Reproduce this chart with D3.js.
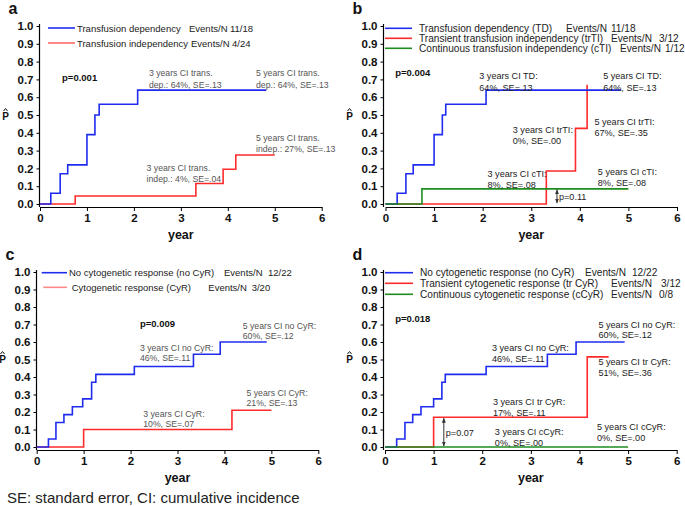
<!DOCTYPE html>
<html><head><meta charset="utf-8">
<script src="https://cdn.jsdelivr.net/npm/d3@7"></script>
<style>
body{margin:0;background:#fff;}
svg text{font-family:"Liberation Sans",Arial,Helvetica,sans-serif;}
</style></head>
<body><svg id="c" width="685" height="506"></svg>
<script>
// ---------- data ----------
const xTicks = [0,1,2,3,4,5,6];
const yTicks = [0,0.1,0.2,0.3,0.4,0.5,0.6,0.7,0.8,0.9,1.0];
const yTickLabels = ["0.0","0.1","0.2","0.3","0.4","0.5","0.6","0.7","0.8","0.9","1.0"];

// panel a
const aDepTimes   = [0, 0.23, 0.43, 0.59, 1.00, 1.17, 1.26, 2.08, 4.82];
const aDepValues  = [0, 0.06, 0.17, 0.22, 0.39, 0.50, 0.56, 0.64, 0.64];
const aIndTimes   = [0, 0.75, 3.32, 3.90, 4.17, 5.00];
const aIndValues  = [0, 0.045, 0.115, 0.195, 0.275, 0.275];
// panel b
const bTDTimes    = [0, 0.24, 0.42, 0.57, 1.00, 1.17, 1.24, 2.07, 4.85];
const bTDValues   = [0, 0.06, 0.17, 0.22, 0.39, 0.50, 0.56, 0.64, 0.64];
const bTrTITimes  = [0, 3.31, 3.91, 4.15];
const bTrTIValues = [0, 0.185, 0.425, 0.67];
const bCTITimes   = [0, 0.75, 5.00];
const bCTIValues  = [0, 0.085, 0.085];
// panel c
const cNoTimes    = [0, 0.25, 0.41, 0.58, 0.76, 0.98, 1.17, 1.26, 2.08, 3.34, 3.91, 4.90];
const cNoValues   = [0, 0.046, 0.14, 0.185, 0.23, 0.275, 0.37, 0.415, 0.46, 0.53, 0.60, 0.60];
const cCyRTimes   = [0, 1.00, 4.16, 5.00];
const cCyRValues  = [0, 0.10, 0.21, 0.21];
// panel d
const dNoTimes    = [0, 0.24, 0.41, 0.57, 0.74, 1.00, 1.17, 1.24, 2.08, 3.34, 3.93, 4.93];
const dNoValues   = [0, 0.046, 0.14, 0.185, 0.23, 0.275, 0.37, 0.415, 0.46, 0.53, 0.60, 0.60];
const dTrTimes    = [0, 1.00, 4.16, 4.60];
const dTrValues   = [0, 0.17, 0.515, 0.515];
const dCTimes     = [0, 5.00];
const dCValues    = [0, 0];

const BLUE="#1f2cf0", RED="#ff2a2a", GREEN="#1e8c1e";
const zip=(t,v)=>t.map((x,i)=>[x,v[i]]);

const panels = [
 {label:"a", x0:40, x1:321.7, yZero:204, yOne:26, axisX:39.5,
  legendFont:9.5, annFont:8.7, annColor:"#555", pX:0.47, pY:0.69, pText:"p=0.001",
  series:[{d:zip(aIndTimes,aIndValues),c:RED},{d:zip(aDepTimes,aDepValues),c:BLUE}],
  legend:[
   {c:BLUE, lx0:48, lx1:75, y:28, tx:77, t:"Transfusion dependency", ex:189, ev:"Events/N", cx:230, cv:"11/18"},
   {c:"#ff6a6a", lx0:48, lx1:75, y:43, tx:77, t:"Transfusion independency", ex:191, ev:"Events/N", cx:232, cv:"4/24"}],
  ann:[
   {x:2.32,y:0.72,dy:12.5,l:["3 years CI trans.","dep.: 64%, SE=.13"]},
   {x:4.6,y:0.72,dy:12.5,l:["5 years CI trans.","dep.: 64%, SE=.13"]},
   {x:4.6,y:0.354,dy:11,l:["5 years CI trans.","indep.: 27%, SE=.13"]},
   {x:2.27,y:0.185,dy:10.5,l:["3 years CI trans.","indep.: 4%, SE=.04"]}],
  arrow:null},
 {label:"b", x0:385.5, x1:677, yZero:204, yOne:26, axisX:383.5,
  legendFont:10.1, annFont:9.1, annColor:"#222", pX:0.2, pY:0.72, pText:"p=0.004",
  series:[{d:zip(bTrTITimes,bTrTIValues),c:RED},{d:zip(bTDTimes,bTDValues),c:BLUE},{d:zip(bCTITimes,bCTIValues),c:GREEN}],
  legend:[
   {c:BLUE, lx0:385, lx1:412, y:28.3, tx:419, t:"Transfusion dependency (TD)", ex:566, ev:"Events/N", cx:611, cv:"11/18"},
   {c:RED, lx0:385, lx1:412, y:38.3, tx:419, t:"Transient transfusion independency (trTI)", ex:611, ev:"Events/N", cx:659, cv:"3/12"},
   {c:GREEN, lx0:385, lx1:412, y:48.3, tx:419, t:"Continuous transfusion independency (cTI)", ex:620, ev:"Events/N", cx:665, cv:"1/12"}],
  ann:[
   {x:1.93,y:0.70,dy:11.3,l:["3 years CI TD:","64%, SE=.13"]},
   {x:4.48,y:0.70,dy:11.3,l:["5 years CI TD:","64%, SE=.13"]},
   {x:4.30,y:0.444,dy:11,l:["5 years CI trTI:","67%, SE=.35"]},
   {x:2.62,y:0.40,dy:11,l:["3 years CI trTI:","0%, SE=.00"]},
   {x:2.10,y:0.152,dy:11.5,l:["3 years CI cTI:","8%, SE=.08"]},
   {x:4.37,y:0.163,dy:10.7,l:["5 years CI cTI:","8%, SE=.08"]}],
  arrow:{x:3.53, y0:0.085, y1:0, t:"p=0.11"}},
 {label:"c", x0:36.7, x1:318.3, yZero:447, yOne:272, axisX:36.5,
  legendFont:9.5, annFont:8.7, annColor:"#555", pX:2.2, pY:0.683, pText:"p=0.009",
  series:[{d:zip(cCyRTimes,cCyRValues),c:RED},{d:zip(cNoTimes,cNoValues),c:BLUE}],
  legend:[
   {c:BLUE, lx0:41.7, lx1:67, y:272.7, tx:69, t:"No cytogenetic response (no CyR)", ex:224, ev:"Events/N", cx:268, cv:"12/22"},
   {c:"#ff8a8a", lx0:43.3, lx1:67, y:287.3, tx:71.7, t:"Cytogenetic response (CyR)", ex:208.3, ev:"Events/N", cx:251.7, cv:"3/20"}],
  ann:[
   {x:4.39,y:0.674,dy:10,l:["5 years CI no CyR:","60%, SE=.12"]},
   {x:2.2,y:0.551,dy:10,l:["3 years CI no CyR:","46%, SE=.11"]},
   {x:4.47,y:0.289,dy:10,l:["5 years CI CyR:","21%, SE=.13"]},
   {x:2.27,y:0.174,dy:10.7,l:["3 years CI CyR:","10%, SE=.07"]}],
  arrow:null},
 {label:"d", x0:385, x1:676.7, yZero:447, yOne:272, axisX:383.5,
  legendFont:10.1, annFont:9.1, annColor:"#222", pX:0.21, pY:0.715, pText:"p=0.018",
  series:[{d:zip(dTrTimes,dTrValues),c:RED},{d:zip(dNoTimes,dNoValues),c:BLUE},{d:zip(dCTimes,dCValues),c:GREEN}],
  legend:[
   {c:BLUE, lx0:385, lx1:413, y:272.7, tx:420, t:"No cytogenetic response (no CyR)", ex:585, ev:"Events/N", cx:632, cv:"12/22"},
   {c:RED, lx0:385, lx1:413, y:283.3, tx:420, t:"Transient cytogenetic response (tr CyR)", ex:611, ev:"Events/N", cx:661, cv:"3/12"},
   {c:GREEN, lx0:385, lx1:413, y:294.3, tx:420, t:"Continuous cytogenetic response (cCyR)", ex:611, ev:"Events/N", cx:659, cv:"0/8"}],
  ann:[
   {x:4.39,y:0.678,dy:10,l:["5 years CI no CyR:","60%, SE=.12"]},
   {x:2.2,y:0.549,dy:10.6,l:["3 years CI no CyR:","46%, SE=.11"]},
   {x:4.39,y:0.469,dy:11,l:["5 years CI tr CyR:","51%, SE=.36"]},
   {x:2.22,y:0.24,dy:10.6,l:["3 years CI tr CyR:","17%, SE=.11"]},
   {x:2.26,y:0.069,dy:10.6,l:["3 years CI cCyR:","0%, SE=.00"]},
   {x:4.36,y:0.097,dy:10.6,l:["5 years CI cCyR:","0%, SE=.00"]}],
  arrow:{x:1.21, y0:0.17, y1:0, t:"p=0.07"}}
];

const svg = d3.select("#c");
const defs = svg.append("defs");
defs.append("marker").attr("id","ah").attr("viewBox","0 0 10 10").attr("refX",9).attr("refY",5)
  .attr("markerWidth",5).attr("markerHeight",5).attr("orient","auto-start-reverse")
  .append("path").attr("d","M0,1 L10,5 L0,9 z").attr("fill","#333");

panels.forEach(p=>{
  const g = svg.append("g");
  const x = d3.scaleLinear().domain([0,6]).range([p.x0,p.x1]);
  const y = d3.scaleLinear().domain([0,1]).range([p.yZero,p.yOne]);
  const xAxisY = p.yZero+3;

  // panel letter
  g.append("text").attr("x", p.axisX-31).attr("y", p.yOne-12).text(p.label)
    .attr("font-size",16).attr("font-weight","bold").attr("fill","#111");

  // y axis
  const ya = g.append("g").attr("transform",`translate(${p.axisX},0)`)
    .call(d3.axisLeft(y).tickValues(yTicks).tickFormat((d,i)=>yTickLabels[i]).tickSize(3).tickSizeOuter(0).tickPadding(3));
  ya.select(".domain").remove();
  g.append("line").attr("x1",p.axisX).attr("x2",p.axisX).attr("y1",p.yOne-2).attr("y2",xAxisY).attr("stroke","#000").attr("stroke-width",1.2);
  ya.selectAll("text").attr("font-size",11.5).attr("font-weight","bold").attr("fill","#111").attr("font-family",'"Liberation Sans",Arial,sans-serif');
  ya.selectAll("line").attr("stroke","#000");

  // x axis
  const xa = g.append("g").attr("transform",`translate(0,${xAxisY})`)
    .call(d3.axisBottom(x).tickValues(xTicks).tickFormat(d3.format("d")).tickSize(4).tickSizeOuter(0).tickPadding(3));
  xa.select(".domain").attr("stroke","#000").attr("stroke-width",1.2);
  xa.selectAll("text").attr("font-size",11.5).attr("font-weight","bold").attr("fill","#111").attr("font-family",'"Liberation Sans",Arial,sans-serif');
  xa.selectAll("line").attr("stroke","#000");

  g.append("text").attr("x",(x(0)+x(6))/2).attr("y",xAxisY+32).attr("text-anchor","middle")
    .attr("font-size",12.5).attr("font-weight","bold").attr("fill","#111").text("year");

  // P-hat label (hat drawn as a small path)
  const py = p.yZero - 84;
  const px = p.axisX-34;
  g.append("text").attr("x",px).attr("y",py).attr("text-anchor","middle")
    .attr("font-size",10).attr("font-weight","bold").attr("fill","#111").text("P");
  g.append("path").attr("d",`M${px-2},${py-9} L${px},${py-11.5} L${px+2},${py-9}`)
    .attr("fill","none").attr("stroke","#111").attr("stroke-width",1);

  // series
  const line = d3.line().x(d=>x(d[0])).y(d=>y(d[1])).curve(d3.curveStepAfter);
  p.series.forEach(s=>{
    g.append("path").attr("d",line(s.d)).attr("fill","none").attr("stroke",s.c).attr("stroke-width",1.6);
  });

  // legend
  p.legend.forEach(l=>{
    g.append("line").attr("x1",l.lx0).attr("x2",l.lx1).attr("y1",l.y).attr("y2",l.y).attr("stroke",l.c).attr("stroke-width",1.6);
    [[l.tx,l.t],[l.ex,l.ev],[l.cx,l.cv]].forEach(([tx,tt])=>{
      g.append("text").attr("x",tx).attr("y",l.y+3.5).attr("font-size",p.legendFont).attr("fill","#222").text(tt);
    });
  });

  // p-value
  g.append("text").attr("x",x(p.pX)).attr("y",y(p.pY)).attr("font-size",9.5).attr("font-weight","bold").attr("fill","#111").text(p.pText);

  // annotations
  p.ann.forEach(a=>{
    a.l.forEach((t,i)=>{
      g.append("text").attr("x",x(a.x)).attr("y",y(a.y)+i*a.dy).attr("font-size",p.annFont).attr("fill",p.annColor).text(t);
    });
  });

  // arrow
  if(p.arrow){
    g.append("line").attr("x1",x(p.arrow.x)).attr("x2",x(p.arrow.x)).attr("y1",y(p.arrow.y0)+1).attr("y2",y(p.arrow.y1)-1)
      .attr("stroke","#333").attr("stroke-width",1).attr("marker-start","url(#ah)").attr("marker-end","url(#ah)");
    g.append("text").attr("x",x(p.arrow.x)+2).attr("y",(y(p.arrow.y0)+y(p.arrow.y1))/2+3.5)
      .attr("font-size",p.annFont).attr("fill","#222").text(p.arrow.t);
  }
});

svg.append("text").attr("x",7).attr("y",503).attr("font-size",15).attr("fill","#222")
  .text("SE: standard error, CI: cumulative incidence");
</script></body></html>
